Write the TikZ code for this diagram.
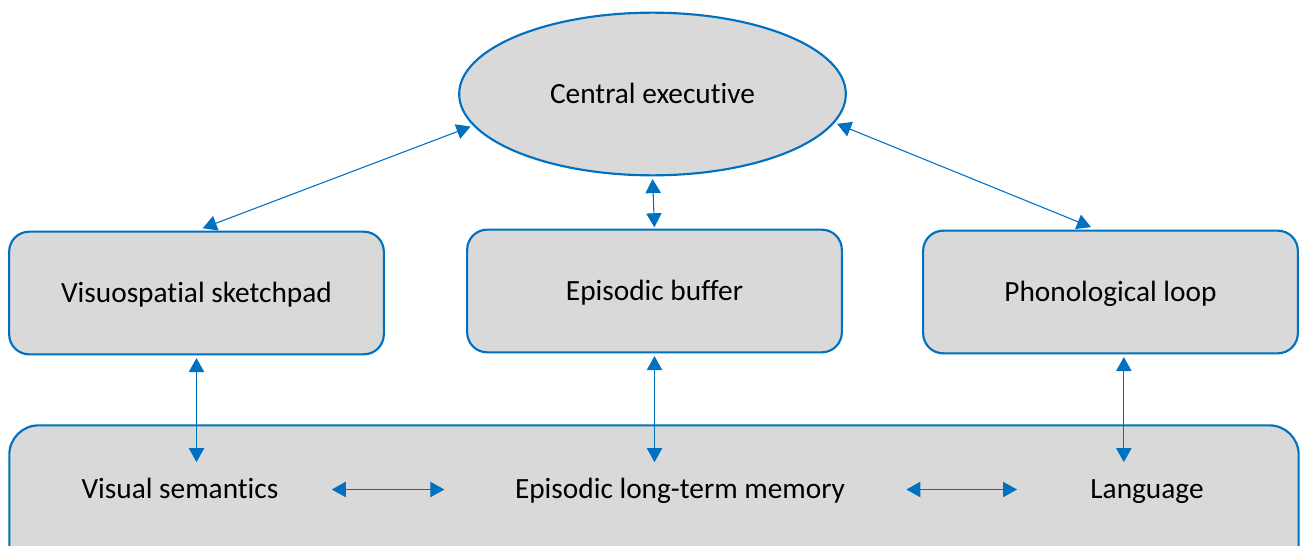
\documentclass[tikz,border=0pt]{standalone}
\usepackage{fontspec}
\setmainfont{Carlito}[Ligatures=NoCommon]
\usepackage{tikz}
\usetikzlibrary{arrows.meta}
\usetikzlibrary{shapes.geometric}
\definecolor{wmblue}{RGB}{0,112,192}
\definecolor{wmgray}{RGB}{217,217,217}
\tikzstyle{every node}=[font=\fontsize{22}{26}\selectfont,text height=14pt,text depth=0pt]
\tikzstyle{exechub}=[ellipse,draw=wmblue,fill=wmgray,line width=1.6pt,minimum width=290pt,minimum height=122pt]
\tikzstyle{slave}=[rectangle,rounded corners=15pt,draw=wmblue,fill=wmgray,line width=1.6pt,minimum width=281pt,minimum height=92pt]
\tikzstyle{link}=[<->,line width=0.8pt,color=wmblue]

\begin{document}
\begin{tikzpicture}[line cap=round,line join=round,>={Triangle[length=10.5pt,width=11.5pt]},x=0.75pt,y=-0.75pt]
                \useasboundingbox (0,0) rectangle (1303,546);
                \clip (0,0) rectangle (1303,546);
                \node [exechub] (exec) at (652.5,94) {Central executive};
                \node [slave] (sketch) at (196.5,293) {Visuospatial sketchpad};
                \node [slave] (buffer) at (654.5,291) {Episodic buffer};
                \node [slave] (loop) at (1110.5,292) {Phonological loop};
                \node [slave,rounded corners=22pt,minimum width=967pt,minimum height=112pt] (ltm) at (654,500) {};
                \node (visual) at (180,489.5) {Visual semantics};
                \node (episodic) at (680,489.5) {Episodic long-term memory};
                \node (lang) at (1147,489.5) {Language};
                \draw [link,shorten <=2pt,shorten >=5pt] (exec.190) -- (sketch.north);
                \draw [link,shorten <=2pt,shorten >=5pt] (exec.351) -- ([xshift=-10pt]loop.north);
                \draw [link,shorten <=2pt,shorten >=1pt] (exec.south) -- (buffer.north);
                \draw [link,shorten <=2pt] (sketch.south) -- ([yshift=10pt]sketch.south |- visual.north);
                \draw [link,shorten <=2pt] (buffer.south) -- ([yshift=10pt]buffer.south |- episodic.north);
                \draw [link,shorten <=2pt] ([xshift=10pt]loop.south) -- ([xshift=10pt,yshift=10pt]loop.south |- lang.north);
                \draw [link,shorten <=36.5pt,shorten >=49.5pt] (visual.east) -- (episodic.west);
                \draw [link,shorten <=42.5pt,shorten >=51.5pt] (episodic.east) -- (lang.west);
            \end{tikzpicture}
\end{document}
